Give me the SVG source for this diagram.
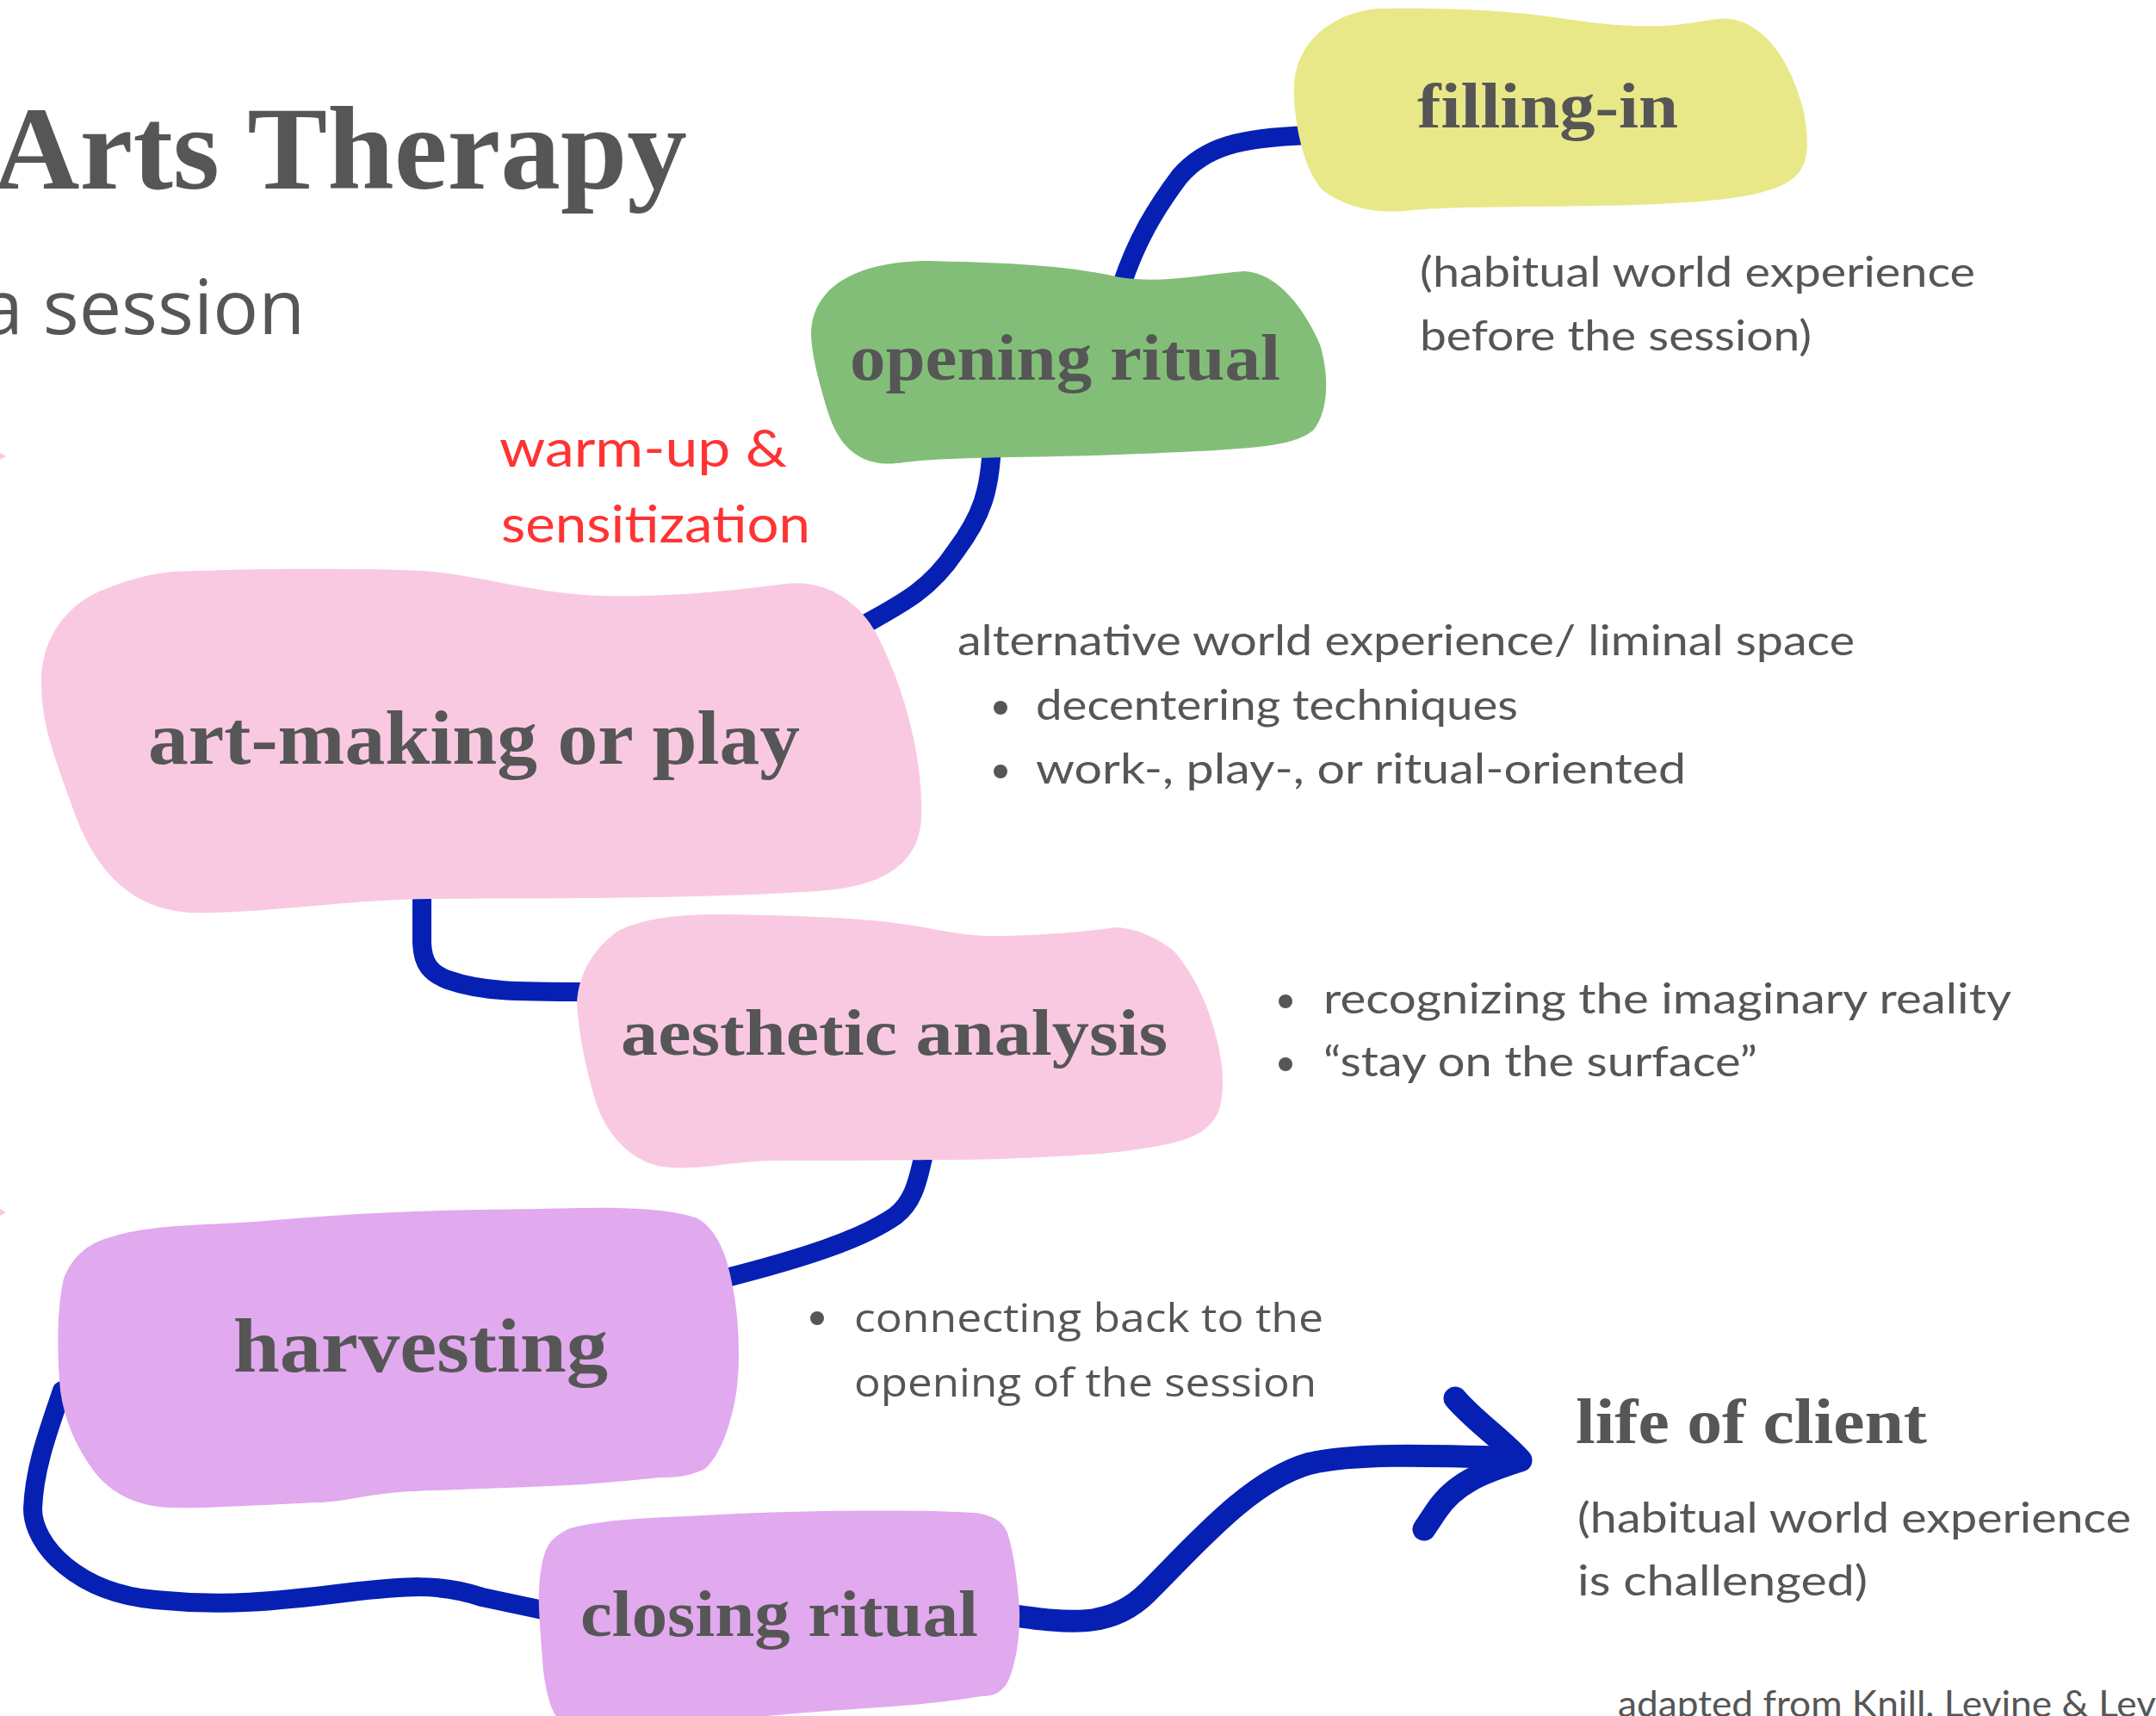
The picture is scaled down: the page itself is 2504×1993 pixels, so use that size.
<svg xmlns="http://www.w3.org/2000/svg" width="2504" height="1993" viewBox="0 0 2504 1993">
<style>
.lbl{font-family:"Liberation Serif","Times New Roman",serif;font-weight:bold;fill:#565656}
.ann{font-family:Lato,"Open Sans",sans-serif;font-size:48px;fill:#565656}
.ann2{font-family:"Open Sans","Noto Sans",sans-serif;font-size:46px;fill:#565656}
.red{font-family:Lato,"Open Sans",sans-serif;font-size:60px;fill:#ff3333}
.con{fill:none;stroke:#0620b3;stroke-linecap:round;stroke-linejoin:round}
.dot{fill:#565656}
.yellow{fill:#e8e888}
.green{fill:#83be78}
.pink{fill:#f9c9e2}
.purple{fill:#e1a9ee}
</style>
<rect width="2504" height="1993" fill="#ffffff"/>

<g id="title">
<text class="lbl" x="-8" y="219" font-size="138" textLength="806" lengthAdjust="spacingAndGlyphs">Arts Therapy</text>
<text x="-22" y="388" font-family="'Open Sans','Noto Sans',sans-serif" font-size="88" fill="#565656">a session</text>
</g>

<g id="edge-marks">
<path class="pink" d="M0,526 L7,530 L0,534 Z"/>
<path class="pink" d="M0,1404 L7,1408 L0,1412 Z"/>
</g>

<g id="connectors">
<path class="con" stroke-width="22" d="M1520,157 C1440,160 1400,170 1370,205 C1340,245 1320,280 1303,330"/>
<path class="con" stroke-width="22" d="M1152,515 C1150,570 1140,600 1110,640 C1080,685 1050,700 990,733"/>
<path class="con" stroke-width="22" d="M490,1035 L490,1095 C491,1120 500,1130 520,1138 C560,1152 600,1152 685,1152"/>
<path class="con" stroke-width="22" d="M1074,1335 C1065,1380 1058,1398 1040,1412 C1000,1440 930,1462 840,1485"/>
<path class="con" stroke-width="22" d="M72,1615 C55,1665 40,1705 38,1752 C38,1795 90,1850 180,1858 C260,1866 320,1860 400,1850 C470,1842 510,1838 560,1855 L640,1872"/>
<path class="con" stroke-width="26" d="M1175,1876 C1240,1885 1290,1892 1332,1850 C1385,1798 1450,1720 1520,1700 C1570,1688 1650,1690 1758,1693"/>
<path class="con" stroke-width="27" d="M1690,1624 C1712,1650 1745,1672 1766,1696 C1722,1710 1690,1722 1668,1755 L1654,1776"/>
</g>

<g id="node-filling-in">
<path class="yellow" d="M1600,10 C1680,9 1740,12 1790,18 C1840,25 1880,32 1930,30 C1970,28 1990,20 2010,22 C2060,30 2085,90 2095,130 C2102,170 2100,190 2085,205 C2060,228 2000,234 1900,238 C1800,241 1700,239 1640,244 C1600,250 1560,240 1535,220 C1510,190 1502,130 1503,100 C1505,40 1560,13 1600,10 Z"/>
<text class="lbl" x="1646" y="148" font-size="75" textLength="303" lengthAdjust="spacingAndGlyphs">filling-in</text>
</g>

<g id="note-filling-in">
<text class="ann" x="1649" y="333" textLength="645" lengthAdjust="spacingAndGlyphs">(habitual world experience</text>
<text class="ann" x="1649" y="407" textLength="455" lengthAdjust="spacingAndGlyphs">before the session)</text>
</g>

<g id="node-opening-ritual">
<path class="green" d="M1079,303 C1150,305 1230,306 1300,322 C1350,330 1400,318 1446,315 C1490,318 1520,370 1533,400 C1545,440 1542,480 1525,500 C1500,520 1450,522 1300,528 C1200,532 1100,530 1050,537 C1000,545 975,520 962,480 C950,440 942,410 942,385 C945,330 1000,303 1079,303 Z"/>
<text class="lbl" x="987" y="441" font-size="76" textLength="500" lengthAdjust="spacingAndGlyphs">opening ritual</text>
</g>

<g id="label-warm-up">
<text class="red" x="580" y="542" textLength="334" lengthAdjust="spacingAndGlyphs">warm-up &amp;</text>
<text class="red" x="582" y="630" textLength="359" lengthAdjust="spacingAndGlyphs">sensitization</text>
</g>

<g id="node-art-making">
<path class="pink" d="M200,664 C300,660 420,660 491,663 C560,668 620,690 700,692 C780,694 860,685 912,678 C960,672 1000,700 1020,740 C1060,820 1072,900 1070,950 C1068,1000 1030,1030 950,1035 C800,1045 600,1043 500,1044 C400,1045 300,1062 220,1060 C150,1055 110,1010 85,940 C60,870 48,840 48,790 C48,740 80,700 120,685 C150,672 180,666 200,664 Z"/>
<text class="lbl" x="172" y="887" font-size="88" textLength="757" lengthAdjust="spacingAndGlyphs">art-making or play</text>
</g>

<g id="note-art-making">
<text class="ann" x="1112" y="761" textLength="1042" lengthAdjust="spacingAndGlyphs">alternative world experience/ liminal space</text>
<circle class="dot" cx="1162" cy="822" r="8"/>
<text class="ann" x="1203" y="836" textLength="560" lengthAdjust="spacingAndGlyphs">decentering techniques</text>
<circle class="dot" cx="1162" cy="896" r="8"/>
<text class="ann" x="1203" y="910" textLength="755" lengthAdjust="spacingAndGlyphs">work-, play-, or ritual-oriented</text>
</g>

<g id="node-aesthetic-analysis">
<path class="pink" d="M833,1062 C900,1063 960,1064 1024,1070 C1080,1076 1110,1087 1152,1087 C1200,1087 1240,1084 1298,1077 C1330,1080 1350,1095 1362,1103 C1395,1140 1412,1190 1419,1237 C1422,1270 1418,1290 1410,1300 C1395,1320 1375,1330 1279,1340 C1200,1345 1150,1347 1088,1347 C1000,1348 950,1348 896,1348 C840,1350 810,1360 770,1355 C735,1350 705,1320 692,1280 C680,1240 672,1200 670,1165 C672,1130 690,1100 720,1080 C750,1066 790,1062 833,1062 Z"/>
<text class="lbl" x="721" y="1225" font-size="76" textLength="635" lengthAdjust="spacingAndGlyphs">aesthetic analysis</text>
</g>

<g id="note-aesthetic-analysis">
<circle class="dot" cx="1493" cy="1163" r="8"/>
<text class="ann" x="1537" y="1177" textLength="799" lengthAdjust="spacingAndGlyphs">recognizing the imaginary reality</text>
<circle class="dot" cx="1493" cy="1236" r="8"/>
<text class="ann" x="1537" y="1250" textLength="504" lengthAdjust="spacingAndGlyphs">“stay on the surface”</text>
</g>

<g id="node-harvesting">
<path class="purple" d="M128,1437 C180,1420 250,1424 319,1417 C400,1410 480,1406 558,1405 C640,1404 700,1402 718,1403 C760,1404 790,1408 810,1415 C835,1430 845,1460 852,1500 C860,1545 860,1600 852,1634 C845,1665 835,1690 820,1705 C800,1716 780,1716 766,1716 C730,1720 700,1722 678,1724 C600,1728 530,1730 478,1732 C430,1734 400,1745 367,1745 C300,1748 240,1752 199,1751 C160,1750 130,1735 110,1710 C88,1680 75,1650 70,1615 C66,1570 66,1520 74,1485 C84,1460 100,1445 128,1437 Z"/>
<text class="lbl" x="271" y="1593" font-size="88" textLength="435" lengthAdjust="spacingAndGlyphs">harvesting</text>
</g>

<g id="note-harvesting">
<circle class="dot" cx="949" cy="1531" r="8"/>
<text class="ann2" x="992" y="1547" textLength="545" lengthAdjust="spacingAndGlyphs">connecting back to the</text>
<text class="ann2" x="992" y="1622" textLength="537" lengthAdjust="spacingAndGlyphs">opening of the session</text>
</g>

<g id="node-closing-ritual">
<path class="purple" d="M662,1775 C700,1765 750,1763 797,1761 C850,1758 900,1756 957,1755 C1020,1754 1090,1754 1132,1757 C1155,1760 1165,1768 1170,1780 C1178,1805 1182,1840 1184,1869 C1185,1900 1180,1930 1172,1950 C1165,1965 1155,1970 1140,1970 C1110,1975 1080,1978 1061,1980 C1000,1985 900,1990 850,1998 L650,1998 C640,1990 632,1960 630,1927 C627,1890 625,1860 626,1849 C627,1820 632,1800 640,1790 C648,1782 655,1778 662,1775 Z"/>
<text class="lbl" x="674" y="1900" font-size="76" textLength="462" lengthAdjust="spacingAndGlyphs">closing ritual</text>
</g>

<g id="node-life-of-client">
<text class="lbl" x="1830" y="1676" font-size="75" textLength="408" lengthAdjust="spacingAndGlyphs">life of client</text>
<text class="ann" x="1832" y="1780" textLength="643" lengthAdjust="spacingAndGlyphs">(habitual world experience</text>
<text class="ann" x="1832" y="1853" textLength="337" lengthAdjust="spacingAndGlyphs">is challenged)</text>
</g>

<g id="credit">
<text class="ann" x="1879" y="1994" style="font-size:42px" textLength="625" lengthAdjust="spacingAndGlyphs">adapted from Knill, Levine &amp; Lev</text>
</g>
</svg>
